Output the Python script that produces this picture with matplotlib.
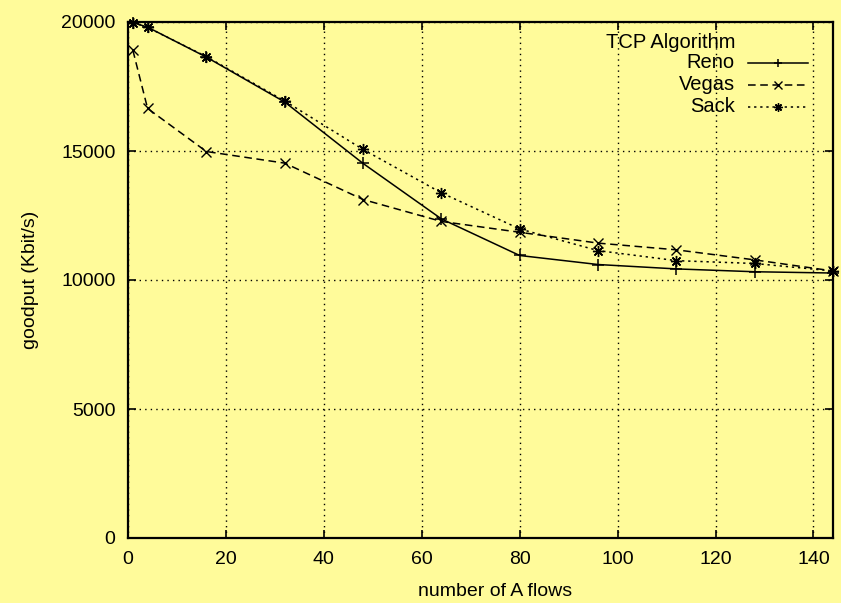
import matplotlib
matplotlib.use('Agg')
import matplotlib.pyplot as plt
from matplotlib.lines import Line2D

plt.rcParams['font.family'] = ['Liberation Sans', 'DejaVu Sans']

# number of A flows
flows = [1, 4, 16, 32, 48, 64, 80, 96, 112, 128, 144]
# goodput (Kbit/s) per TCP algorithm
reno = [19980, 19800, 18640, 16900, 14520, 12370, 10950, 10600, 10430, 10320, 10270]
vegas = [18900, 16650, 14980, 14530, 13120, 12270, 11850, 11430, 11170, 10780, 10350]
sack = [19980, 19790, 18660, 16940, 15060, 13380, 11980, 11140, 10750, 10640, 10350]

series_names = ['Reno', 'Vegas', 'Sack']
legend_title = 'TCP Algorithm'
x_ticks = [0, 20, 40, 60, 80, 100, 120, 140]
y_ticks = [0, 5000, 10000, 15000, 20000]

bg = '#fffb9a'
W, H = 841, 603
fig = plt.figure(figsize=(W / 100, H / 100), dpi=100, facecolor=bg)
ax = fig.add_axes([128 / W, 1 - 538 / H, 705 / W, 516 / H], facecolor=bg)

styles = [
    dict(linestyle='-', marker='+', markersize=8, markeredgewidth=1.1),
    dict(linestyle=(0, (5, 3)), marker='x', markersize=7, markeredgewidth=1.0),
    dict(linestyle=(0, (1.5, 2.5)), marker=(8, 2, 0), markersize=8, markeredgewidth=1.0),
]
for vals, st in zip([reno, vegas, sack], styles):
    ax.plot(flows, vals, color='black', linewidth=1.1, clip_on=False, zorder=3, **st)

ax.set_xlim(0, 144)
ax.set_ylim(0, 20000)
ax.set_xticks(x_ticks)
ax.set_yticks(y_ticks)
ax.grid(True, color='black', linestyle=(0, (1, 3)), linewidth=1.0)
ax.tick_params(direction='in', length=6, width=1.2, top=True, right=True,
               labelsize=14, pad=9)
for sp in ax.spines.values():
    sp.set_linewidth(1.6)

ax.set_xlabel('number of A flows', fontsize=14, va='center')
ax.xaxis.set_label_coords((495 - 128) / 705, (538 - 592) / 516)
ax.set_ylabel('goodput (Kbit/s)', fontsize=14, va='center')
ax.yaxis.set_label_coords((31 - 128) / 705, 0.5)

# key, laid out the way gnuplot does it: text right-aligned, sample to the right
def ax_x(px):
    return (px - 128) / 705

def ax_y(py):
    return (538 - py) / 516

ax.text(ax_x(735), ax_y(42), legend_title, transform=ax.transAxes,
        ha='right', va='center', fontsize=14.5)
for i, (name, st) in enumerate(zip(series_names, styles)):
    yy = ax_y(63 + 22 * i)
    ax.text(ax_x(735), yy, name, transform=ax.transAxes,
            ha='right', va='center', fontsize=14.5)
    small = dict(st, markersize=st['markersize'] * 0.75)
    ln = Line2D([ax_x(748), ax_x(778), ax_x(808)], [yy, yy, yy],
                transform=ax.transAxes, color='black', linewidth=1.1,
                markevery=[1], **small)
    ax.add_line(ln)

fig.savefig('out.png', dpi=100, facecolor=bg)
